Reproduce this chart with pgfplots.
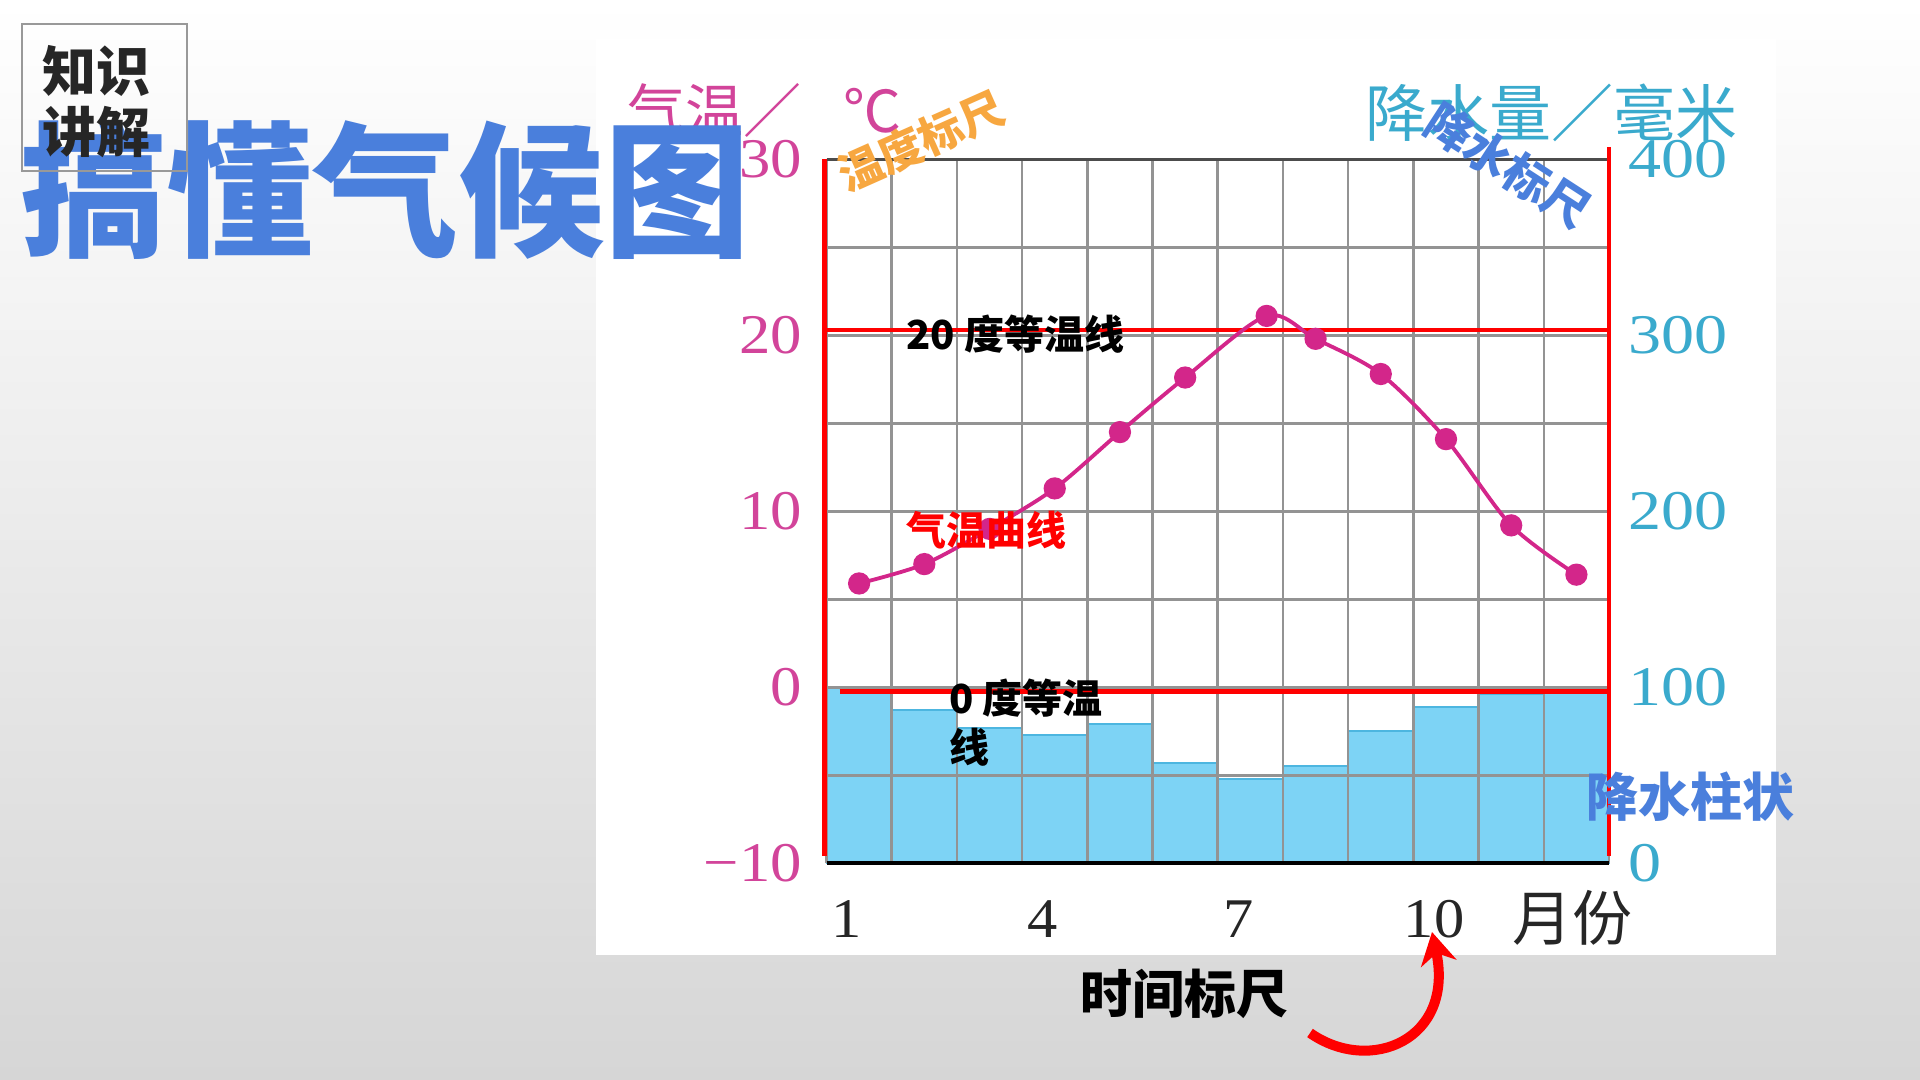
\documentclass[border=0pt]{standalone}
\usepackage{fontspec}
\setmainfont{Liberation Serif}
\newfontfamily\cjk{Noto Sans CJK SC}
\usepackage{pgfplots}
\pgfplotsset{compat=1.18}
\usetikzlibrary{arrows.meta}
\definecolor{titleblue}{HTML}{4A7FDC}
\definecolor{tmag}{HTML}{D3268A}
\definecolor{labmag}{HTML}{D2449A}
\definecolor{labcyan}{HTML}{3AAACD}
\definecolor{barblue}{HTML}{7DD3F5}
\definecolor{baredge}{HTML}{4DB6E0}
\definecolor{orangeT}{HTML}{F7A740}
\definecolor{gridgray}{HTML}{939393}
\begin{document}
\begin{tikzpicture}[x=0.5pt,y=0.5pt]
\shade[top color=white, bottom color={rgb,255:red,214;green,214;blue,214}] (0,0) rectangle (1920,1080);
\path[use as bounding box] (0,0) rectangle (1920,1080);
\fill[white] (596,125) rectangle (1776,1041);

% precipitation axis (right)
\begin{axis}[at={(413.25pt,108.35pt)}, anchor=south west, width=391.25pt, height=352pt, scale only axis,
  xmin=0.5, xmax=12.5, ymin=0, ymax=400,
  axis x line=none, axis y line*=right,
  axis line style={draw=none},
  xtick=\empty,
  ytick={0,100,200,300,400}, yticklabels={0,100,200,300,400},
  major tick length=0pt,
  yticklabel style={font=\fontsize{28}{30}\selectfont, text=labcyan, anchor=west, inner sep=0pt, xshift=9.5pt, xscale=1.18},
  clip=false]
\addplot[ybar, bar width=1, bar shift=0pt, fill=barblue, draw=baredge, line width=1pt]
  coordinates {(1,100) (2,87) (3,77) (4,73) (5,79) (6,57) (7,48) (8,55) (9,75) (10,89) (11,96) (12,100)};
\end{axis}

% temperature axis (left)
\begin{axis}[at={(413.25pt,108.35pt)}, anchor=south west, width=391.25pt, height=352pt, scale only axis,
  xmin=0.5, xmax=12.5, ymin=-10, ymax=30,
  axis y line*=left, axis x line*=bottom,
  axis line style={draw=none},
  xtick={1,4,7,10}, xticklabels={1,4,7,10},
  minor xtick={0.5,1.5,...,12.5},
  ytick={-10,0,10,20,30}, yticklabels={−10,0,10,20,30},
  minor ytick={-5,5,15,25},
  xmajorgrids=false, xminorgrids=true, ymajorgrids=true, yminorgrids=true,
  major grid style={gridgray, line width=1.3pt}, minor grid style={gridgray, line width=1.3pt},
  major tick length=0pt, minor tick length=0pt,
  yticklabel style={font=\fontsize{28}{30}\selectfont, text=labmag, anchor=east, inner sep=0pt, xshift=-12pt, xscale=1.12},
  xticklabel style={font=\fontsize{28}{30}\selectfont, text=black!85, anchor=base, inner sep=0pt, yshift=-37pt, xshift=-6pt, xscale=1.08},
  clip=false]
\draw[black!70, line width=1.5pt] (axis cs:0.5,30) -- (axis cs:12.5,30);
\draw[black, line width=2pt] (axis cs:0.5,-10) -- (axis cs:12.5,-10);
\draw[red, line width=2.2pt] (axis cs:0.47,30) -- (axis cs:0.47,-9.6);
\draw[red, line width=2.2pt] (axis cs:12.5,30.7) -- (axis cs:12.5,-9.6);
\draw[red, line width=2.2pt] (axis cs:0.47,20.3) -- (axis cs:12.5,20.3);
\draw[red, line width=2.2pt] (axis cs:0.7,-0.25) -- (axis cs:12.5,-0.25);
\addplot[tmag, line width=1.9pt, smooth, mark=*, mark size=4.6pt, mark options={fill=tmag, draw=tmag}]
  coordinates {(1,5.9) (2,7.0) (3,9.0) (4,11.3) (5,14.5) (6,17.6) (7.25,21.1) (8,19.8) (9,17.8) (10,14.1) (11,9.2) (12,6.4)};
\end{axis}

% axis titles
\node[anchor=west, inner sep=0, text=labmag, font=\cjk\fontsize{29}{30}\selectfont] at (627,970) {气温／\hspace{21pt}℃};
\node[anchor=west, inner sep=0, text=labcyan, font=\cjk\fontsize{31}{32}\selectfont] at (1365,967) {降水量／毫米};
\node[anchor=center, inner sep=0, text=black!85, font=\cjk\fontsize{30}{32}\selectfont] at (1572,162) {月份};

% annotations
\node[anchor=west, inner sep=0, text=black, font=\cjk\bfseries\fontsize{20}{22}\selectfont] at (906,746) {20 度等温线};
\node[anchor=west, inner sep=0, text=red, font=\cjk\bfseries\fontsize{20}{22}\selectfont] at (906,550) {气温曲线};
\node[anchor=west, inner sep=0, text=black, font=\cjk\bfseries\fontsize{20}{22}\selectfont] at (949,382) {0 度等温};
\node[anchor=west, inner sep=0, text=black, font=\cjk\bfseries\fontsize{20}{22}\selectfont] at (949,333) {线};
\node[anchor=west, inner sep=0, text=titleblue, font=\cjk\bfseries\fontsize{26}{28}\selectfont] at (1586,283) {降水柱状};
\node[anchor=west, inner sep=0, text=black, font=\cjk\bfseries\fontsize{26}{28}\selectfont] at (1080,86) {时间标尺};
\node[rotate=24, inner sep=0, text=orangeT, font=\cjk\bfseries\fontsize{22}{24}\selectfont] at (921,939) {温度标尺};
\node[rotate=-33, inner sep=0, text=titleblue, font=\cjk\bfseries\fontsize{23}{25}\selectfont] at (1508,914) {降水标尺};

% arrow
\draw[red, line width=5pt, -{Stealth[length=16pt,width=18pt]}] (1310,47) .. controls (1370,5) and (1455,40) .. (1432,148);

% title, then box on top
\node[anchor=west, inner sep=0, text=titleblue, font=\cjk\bfseries\fontsize{73}{80}\selectfont] at (20,890) {搞懂气候图};
\draw[gray!80, line width=0.6pt] (22,909) rectangle (187,1056);
\node[anchor=center, inner sep=0, text=black!85, font=\cjk\bfseries\fontsize{27}{29}\selectfont] at (96,1009) {知识};
\node[anchor=center, inner sep=0, text=black!85, font=\cjk\bfseries\fontsize{27}{29}\selectfont] at (96,948) {讲解};
\end{tikzpicture}
\end{document}
